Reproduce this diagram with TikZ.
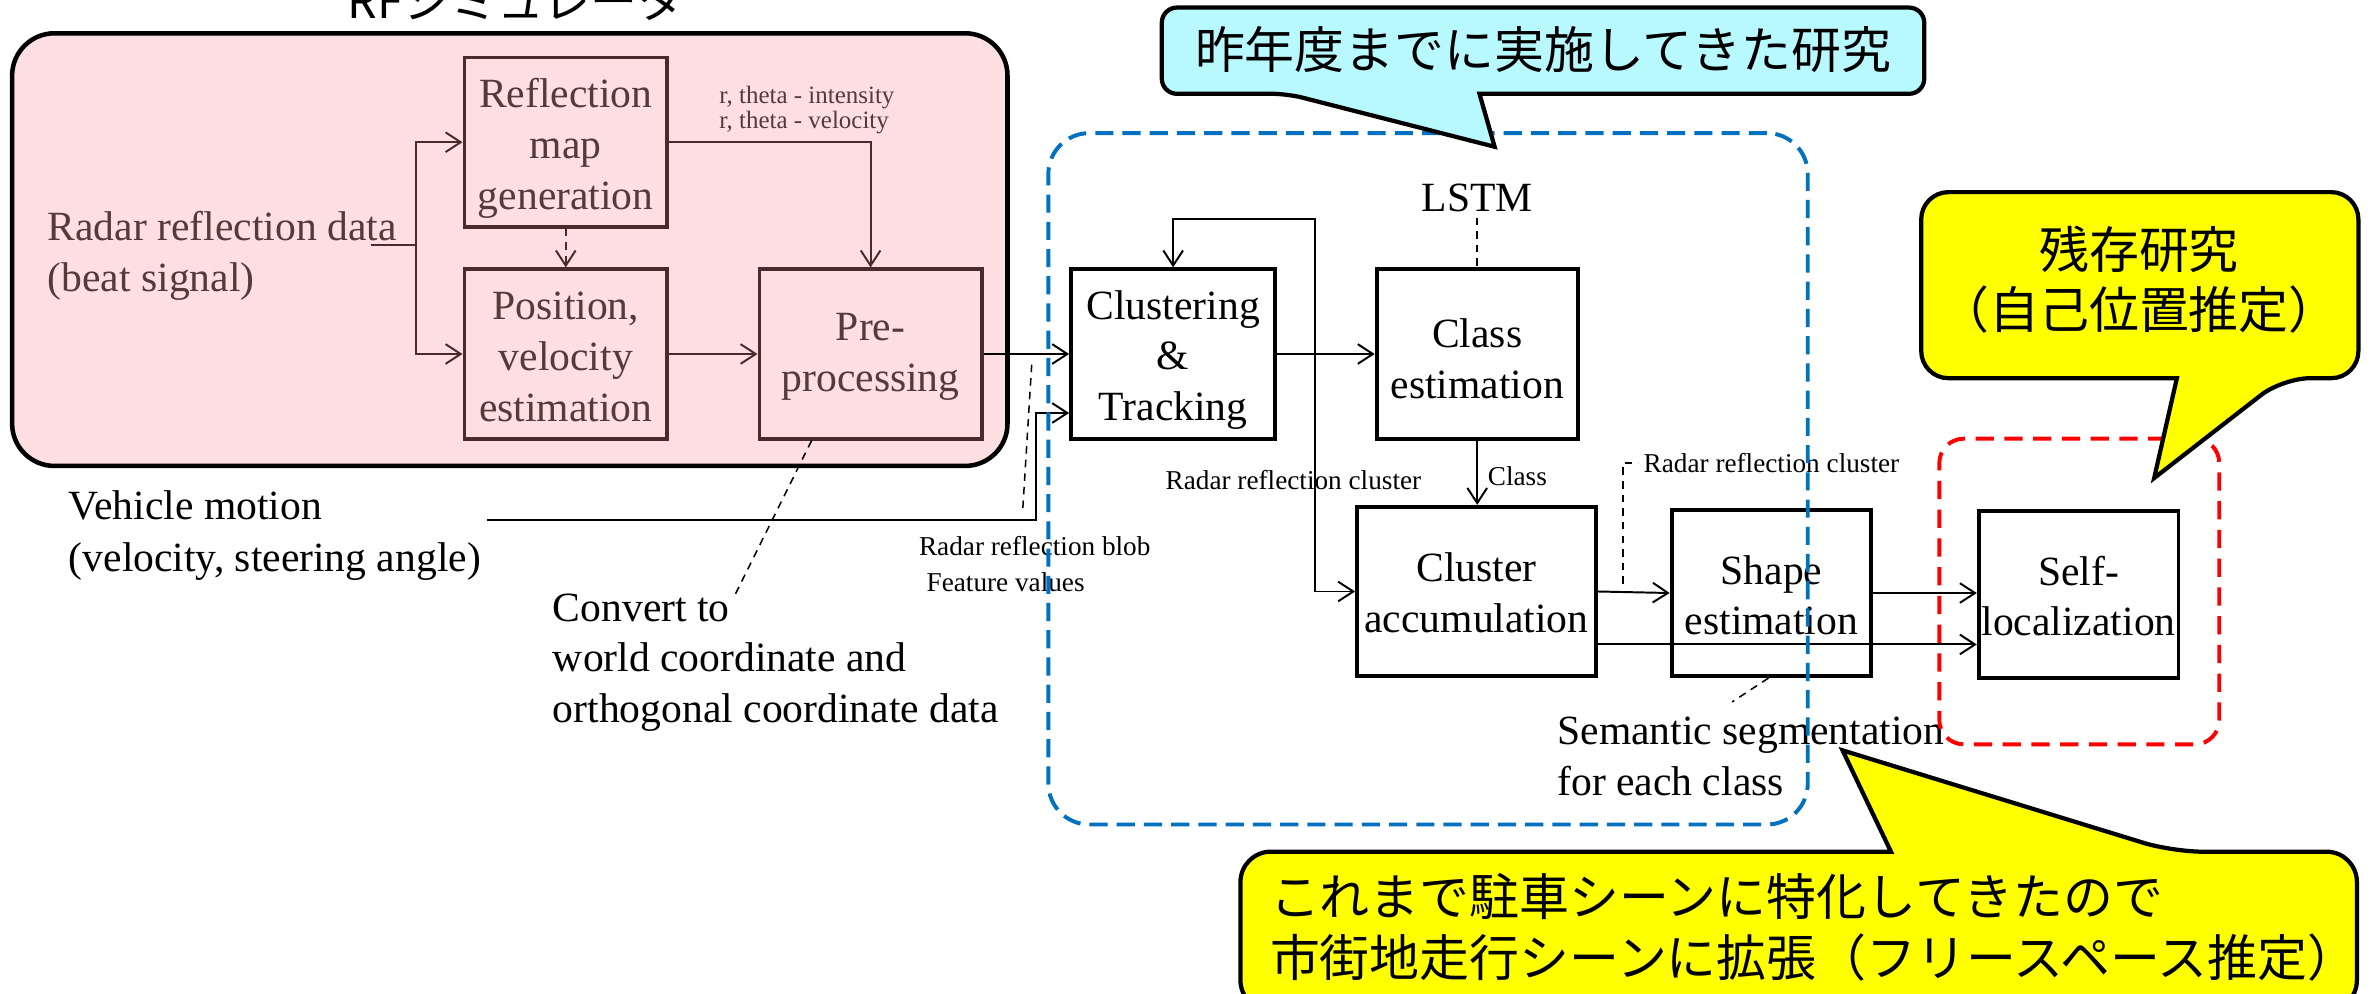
\documentclass[tikz,border=0pt]{standalone}
\usepackage{fontspec}
\setmainfont{Liberation Serif}
\newfontfamily\jpfont{Noto Sans CJK JP}
\usetikzlibrary{arrows.meta,calc}
\definecolor{rfpink}{HTML}{FDDEE1}
\definecolor{rfbrown}{HTML}{4A2A2A}
\definecolor{rftext}{HTML}{553A3A}
\definecolor{prevblue}{HTML}{0070C0}
\definecolor{callcyan}{HTML}{B8F8FF}
\definecolor{callyellow}{HTML}{FFFF00}
\begin{document}
\begin{tikzpicture}[x=1pt,y=-1pt,
  big/.style={font=\fontsize{27.5}{33.5}\selectfont},
  small/.style={font=\fontsize{18}{24}\selectfont},
  blk/.style={draw, line width=2.5pt, inner sep=0pt},
  blktext/.style={big, align=center, inner sep=0pt},
  rfblk/.style={blk, draw=rfbrown},
  rftxt/.style={blktext, text=rftext},
  conn/.style={line width=1.3pt},
  arr/.style={conn, -{Straight Barb[length=10pt,width=13pt]}},
  rfarr/.style={arr, draw=rfbrown},
  lead/.style={line width=1pt, dash pattern=on 5pt off 4pt},
  jp/.style={font=\jpfont\fontsize{33}{40}\selectfont},
  callout/.style={draw=black, line width=2.8pt},
  grp/.style={line width=2.6pt, rounded corners=27pt, dash pattern=on 12pt off 6pt}
]
\path[use as bounding box] (0,0) rectangle (1568,657);

% RF simulator container
\node[draw=black, line width=3pt, fill=rfpink, rounded corners=28pt,
      minimum width=658pt, minimum height=286pt, inner sep=0pt] (rf) at (337,165) {};
\node[font=\jpfont\fontsize{31}{31}\selectfont] (rftitle) at (341,0) {RFシミュレータ};

% blocks inside RF
\node[rfblk, minimum width=134pt, minimum height=112pt] (refl) at (374,94) {};
\node[rftxt] (refl-t) at ([yshift=-4pt]refl.center) {Reflection\\map\\generation};
\node[rfblk, minimum width=134pt, minimum height=112pt] (pos) at (374,234) {};
\node[rftxt] (pos-t) at ([yshift=-2pt]pos.center) {Position,\\velocity\\estimation};
\node[rfblk, minimum width=147pt, minimum height=112pt] (pre) at (575.5,234) {};
\node[rftxt] (pre-t) at ([yshift=-2pt]pre.center) {Pre-\\processing};

\node[big, text=rftext, align=left, anchor=west] (radar) at (28,169) {Radar reflection data\\(beat signal)};
\node[font=\fontsize{16.5}{16.5}\selectfont, text=rftext, align=left, anchor=west] (rtheta) at (472,73) {r, theta - intensity\\r, theta - velocity};

\coordinate (rin) at (245,162);
\coordinate (rj) at (275,162);
\draw[conn, draw=rfbrown] (rin) -- (rj);
\draw[rfarr] (rj) |- (refl.west);
\draw[rfarr] (rj) |- (pos.west);
\draw[rfarr, dash pattern=on 5pt off 4pt] (refl.south) -- (pos.north);
\draw[rfarr] (refl.east) -| (pre.north);
\draw[rfarr] (pos.east) -- (pre.west);

% main blocks
\node[blk, minimum width=135pt, minimum height=112pt] (clus) at (775.5,234) {};
\node[blktext] (clus-t) at ([yshift=-4pt]clus.center) {Clustering\\\&\\Tracking};
\node[blk, minimum width=133pt, minimum height=112pt] (cls) at (976.5,234) {};
\node[blktext] (cls-t) at ([yshift=-3pt]cls.center) {Class\\estimation};
\node[blk, minimum width=158pt, minimum height=112pt] (acc) at (976,391) {};
\node[blktext] (acc-t) at ([yshift=-1pt]acc.center) {Cluster\\accumulation};
\node[blk, minimum width=132pt, minimum height=110pt] (shape) at (1171,392) {};
\node[blktext] (shape-t) at ([yshift=-1.5pt]shape.center) {Shape\\estimation};
\node[blk, minimum width=132pt, minimum height=110pt] (self) at (1374,393) {};
\node[blktext] (self-t) at ([yshift=-1pt]self.center) {Self-\\localization};

% texts
\node[big, align=left, anchor=west] (vm) at (42,354) {Vehicle motion\\[1.5pt](velocity, steering angle)};
\node[big, align=left, anchor=west] (convert) at (362,438) {Convert to\\world coordinate and\\orthogonal coordinate data};
\node[small, align=left, anchor=west] (blob) at (604,373) {Radar reflection blob\\\hspace*{5pt}Feature values};
\node[big] (lstm) at (976.5,131) {LSTM};
\node[small] (rc1) at (855,317) {Radar reflection cluster};
\node[small, anchor=west] (clslbl) at (980,315) {Class};
\node[small, anchor=west] (rc2) at (1083,306) {Radar reflection cluster};
\node[big, align=left, anchor=west] (seg) at (1026,500) {Semantic segmentation\\for each class};

% connectors
\draw[arr] (pre.east) -- (clus.west);
\coordinate (vmstart) at (322,344);
\coordinate (vmj) at (685,344);
\draw[arr] (vmstart) -- (vmj) |- ([yshift=-39pt]clus.west);
\coordinate (blobtip) at (682,241);
\coordinate (blobfoot) at (676,338);
\draw[lead] (blobtip) -- (blobfoot);
\coordinate (cvtip) at (485,395);
\draw[lead] ([xshift=-39pt]pre.south) -- (cvtip);

\draw[arr] (clus.east) -- (cls.west);
\coordinate (fb) at (869,234);
\coordinate (fbtop) at (869,145);
\draw[arr] (fb) -- (fbtop) -| (clus.north);
\draw[arr] (fb) |- (acc.west);
\draw[lead] (lstm.south) -- (lstm.south |- cls.north);
\draw[arr] (cls.south) -- (cls.south |- acc.north);
\draw[arr] (acc.east) -- (shape.west);
\draw[arr] ([yshift=-35pt]acc.east) -- ([yshift=-35pt]acc.east -| self.west);
\draw[arr] (shape.east) -- (shape.east -| self.west);
\coordinate (rc2foot) at (1073,386);
\draw[lead] (rc2foot) |- (rc2.west);
\coordinate (segtip) at (1145,464);
\draw[lead] ([xshift=-2pt]shape.south) -- (segtip);

% group frames
\node[grp, draw=prevblue, minimum width=502pt, minimum height=457pt, inner sep=0pt] (prev) at (944,316.5) {};
\node[grp, draw=red, rounded corners=16pt, dash pattern=on 12pt off 7pt, minimum width=185pt, minimum height=202pt, inner sep=0pt] (cur) at (1374.5,391) {};

% callouts
\draw[callout, fill=callcyan]
  (1100,62) [rounded corners=10pt] -- (1272,62) -- (1272,5) -- (768,5) -- (768,62) -- (851,62)
  [sharp corners] -- (988,97) -- (978,62) -- cycle;
\node[jp] (prevtxt) at (1020,33) {昨年度までに実施してきた研究};

\draw[callout, fill=callyellow]
  (1350,250) [rounded corners=18pt] -- (1270,250) -- (1270,127) -- (1559,127) -- (1559,250) -- (1509,250)
  [sharp corners] -- (1424,316) -- (1439,250) -- cycle;
\node[jp, align=center] (resttxt) at (1414,185) {残存研究\\（自己位置推定）};

\draw[callout, fill=callyellow]
  (1000,563) [rounded corners=20pt] -- (820,563) -- (820,668) -- (1558,668) -- (1558,563) -- (1436,563)
  [sharp corners] -- (1218,496) -- (1250,563) -- cycle;
\node[jp, align=left, anchor=west] (futtxt) at (836,613) {これまで駐車シーンに特化してきたので\\市街地走行シーンに拡張（フリースペース推定）};
\end{tikzpicture}
\end{document}
